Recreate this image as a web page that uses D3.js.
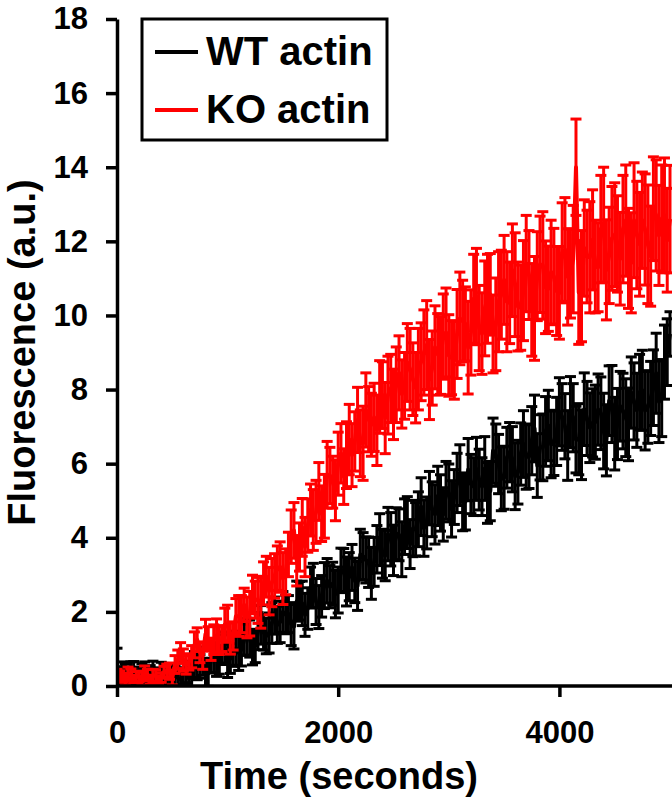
<!DOCTYPE html>
<html>
<head>
<meta charset="utf-8">
<script src="https://d3js.org/d3.v7.min.js"></script>
<style>
  body { margin: 0; background: #fff; }
  text { font-family: "Liberation Sans", Arial, sans-serif; font-weight: bold; }
</style>
</head>
<body>
<div id="chart"></div>
<script>
// sample times (seconds)
var times = [0,25,50,75,100,125,150,175,200,225,250,275,300,325,350,375,400,425,450,475,
  500,525,550,575,600,625,650,675,700,725,750,775,800,825,850,875,900,925,950,975,
  1000,1025,1050,1075,1100,1125,1150,1175,1200,1225,1250,1275,1300,1325,1350,1375,1400,1425,1450,1475,
  1500,1525,1550,1575,1600,1625,1650,1675,1700,1725,1750,1775,1800,1825,1850,1875,1900,1925,1950,1975,
  2000,2025,2050,2075,2100,2125,2150,2175,2200,2225,2250,2275,2300,2325,2350,2375,2400,2425,2450,2475,
  2500,2525,2550,2575,2600,2625,2650,2675,2700,2725,2750,2775,2800,2825,2850,2875,2900,2925,2950,2975,
  3000,3025,3050,3075,3100,3125,3150,3175,3200,3225,3250,3275,3300,3325,3350,3375,3400,3425,3450,3475,
  3500,3525,3550,3575,3600,3625,3650,3675,3700,3725,3750,3775,3800,3825,3850,3875,3900,3925,3950,3975,
  4000,4025,4050,4075,4100,4125,4150,4175,4200,4225,4250,4275,4300,4325,4350,4375,4400,4425,4450,4475,
  4500,4525,4550,4575,4600,4625,4650,4675,4700,4725,4750,4775,4800,4825,4850,4875,4900,4925,4950,4975,
  5000];

// WT actin (black): mean and error
var wtMean = [0.40,0.20,0.30,0.29,0.23,0.31,0.34,0.16,0.21,0.27,
  0.31,0.22,0.26,0.32,0.16,0.18,0.33,0.30,0.19,0.25,
  0.29,0.28,0.22,0.17,0.35,0.38,0.20,0.26,0.58,0.47,
  0.53,0.67,0.35,0.34,0.71,0.77,0.68,0.69,1.00,1.02,
  0.68,0.74,0.93,1.02,0.90,0.98,1.25,1.33,1.28,1.03,
  1.08,1.48,1.65,1.45,1.35,1.43,1.70,1.90,1.65,1.73,
  2.00,1.93,1.94,1.67,1.60,2.29,2.30,2.23,1.92,2.09,
  2.66,2.71,2.28,2.13,2.42,2.71,2.84,2.68,2.76,2.48,
  2.59,3.12,3.13,2.82,2.95,3.20,2.85,2.70,3.55,3.50,
  3.40,3.34,3.04,3.35,3.69,3.95,3.57,3.52,4.10,3.96,
  3.66,4.11,4.08,3.69,4.30,4.41,3.83,4.25,4.23,4.50,
  4.84,4.26,4.40,5.07,4.77,4.63,5.13,4.94,4.63,5.28,
  5.21,4.78,5.10,5.48,5.69,4.97,4.97,5.84,5.45,5.38,
  5.86,5.57,5.38,5.87,5.21,5.26,6.35,6.23,5.99,5.59,
  5.62,6.16,6.31,6.12,5.66,5.77,6.26,6.53,6.19,6.19,
  6.62,6.95,5.95,6.44,6.44,6.87,7.03,6.52,6.56,6.87,
  7.40,7.26,7.01,6.49,7.39,7.24,6.65,6.66,6.51,7.47,
  7.22,6.97,7.10,7.12,7.46,7.36,6.88,6.63,7.70,7.61,
  6.81,7.07,7.55,7.42,7.24,7.06,7.92,7.68,7.44,7.93,
  7.98,7.43,7.53,7.76,8.05,8.44,7.67,7.77,8.74,9.01,
  9.50];
var wtErr = [0.62,0.32,0.35,0.30,0.28,0.34,0.32,0.28,0.30,0.33,
  0.34,0.30,0.29,0.35,0.33,0.29,0.31,0.31,0.28,0.33,
  0.30,0.27,0.26,0.32,0.30,0.29,0.30,0.34,0.35,0.30,
  0.32,0.38,0.40,0.35,0.36,0.40,0.42,0.37,0.38,0.44,
  0.45,0.40,0.40,0.46,0.48,0.44,0.42,0.50,0.50,0.46,
  0.45,0.50,0.52,0.48,0.48,0.54,0.55,0.50,0.50,0.56,
  0.55,0.52,0.50,0.58,0.60,0.54,0.52,0.60,0.58,0.56,
  0.55,0.60,0.62,0.58,0.56,0.62,0.60,0.57,0.58,0.64,
  0.62,0.60,0.58,0.66,0.65,0.62,0.60,0.66,0.68,0.64,
  0.62,0.68,0.70,0.66,0.64,0.70,0.66,0.68,0.72,0.72,
  0.68,0.70,0.70,0.74,0.75,0.70,0.66,0.76,0.72,0.74,
  0.78,0.76,0.70,0.72,0.74,0.80,0.80,0.76,0.72,0.78,
  0.78,0.76,0.74,0.80,0.82,0.78,0.76,0.84,0.80,0.78,
  0.85,0.82,0.78,0.86,0.82,0.80,0.88,0.84,0.80,0.86,
  0.85,0.82,0.80,0.88,0.90,0.86,0.84,0.90,0.88,0.86,
  0.92,0.90,0.86,0.88,0.90,0.94,0.95,0.90,0.88,0.92,
  0.92,0.90,0.88,0.94,0.96,0.92,0.90,0.96,0.94,0.98,
  1.00,0.94,0.92,1.00,0.96,0.98,1.02,0.96,0.94,1.04,
  0.98,0.96,0.94,1.02,1.05,0.98,0.96,1.04,1.00,1.02,
  1.08,1.06,0.98,1.00,1.02,1.08,1.10,1.04,1.00,0.90,
  0.60];

// KO actin (red): mean and error
var koMean = [0.30,0.27,0.22,0.18,0.33,0.34,0.19,0.24,0.26,0.20,
  0.34,0.31,0.17,0.28,0.28,0.16,0.23,0.37,0.41,0.40,
  0.23,0.58,0.72,0.89,0.70,0.57,0.65,0.79,1.11,1.25,
  0.91,0.81,1.40,1.27,0.99,1.25,1.36,1.23,1.28,1.66,
  1.68,1.28,1.35,1.88,1.89,1.94,2.19,1.85,1.95,2.47,
  2.33,2.31,2.26,2.77,2.95,2.56,2.79,2.97,3.18,3.21,
  2.90,3.08,3.55,4.03,4.20,3.38,3.75,4.28,3.75,4.33,
  4.75,4.48,4.70,5.25,4.65,4.85,5.70,5.68,5.50,5.28,
  6.00,6.28,5.65,6.23,6.65,6.23,6.60,7.18,6.55,6.55,
  7.45,7.20,7.05,7.25,6.90,7.80,7.85,7.23,7.85,8.03,
  7.60,8.13,8.45,7.88,8.10,8.73,8.55,8.28,8.05,8.55,
  8.75,9.00,9.20,8.27,8.58,9.14,8.95,8.92,9.43,9.54,
  8.92,8.86,8.79,9.50,9.92,9.85,9.77,9.13,9.54,10.45,
  10.51,9.66,9.51,10.19,10.45,10.57,9.50,9.76,10.37,10.56,
  10.96,10.37,10.34,11.22,10.83,10.24,10.21,10.67,11.40,11.09,
  10.15,10.19,11.06,11.38,11.35,10.76,10.72,11.17,11.05,10.66,
  10.61,11.69,11.78,11.04,11.13,11.52,14.00,10.62,10.79,11.82,
  11.59,11.57,12.04,11.32,11.30,12.33,12.45,11.23,11.62,12.08,
  12.18,11.93,11.53,12.33,12.56,11.54,11.42,12.57,12.17,11.92,
  12.57,12.32,11.92,11.60,12.88,12.70,12.16,12.61,12.70,12.03,
  12.60];
var koErr = [0.15,0.14,0.12,0.16,0.18,0.12,0.10,0.15,0.14,0.18,
  0.20,0.14,0.12,0.17,0.16,0.12,0.13,0.16,0.18,0.22,
  0.20,0.24,0.25,0.28,0.30,0.25,0.22,0.30,0.35,0.32,
  0.28,0.36,0.40,0.33,0.30,0.40,0.45,0.38,0.35,0.44,
  0.50,0.42,0.38,0.48,0.55,0.50,0.45,0.55,0.60,0.52,
  0.50,0.62,0.70,0.58,0.55,0.64,0.65,0.60,0.60,0.68,
  0.70,0.62,0.60,0.72,0.75,0.68,0.65,0.78,0.80,0.72,
  0.70,0.82,0.85,0.78,0.75,0.86,0.90,0.76,0.70,0.82,
  0.85,0.80,0.75,0.90,0.95,0.85,0.80,0.88,0.90,1.00,
  1.00,0.88,0.85,0.92,0.95,0.98,0.90,0.96,1.05,0.92,
  0.95,1.02,1.00,0.92,0.90,1.05,1.10,0.98,0.95,1.10,
  1.05,1.15,1.20,1.08,1.00,1.12,1.10,1.05,1.15,1.20,
  1.10,1.00,1.05,1.20,1.25,1.10,1.00,1.25,1.15,1.20,
  1.30,1.15,1.10,1.28,1.20,1.10,1.05,1.25,1.35,1.20,
  1.20,1.35,1.10,1.25,1.40,1.20,1.15,1.35,1.30,1.20,
  1.25,1.40,1.20,1.30,1.45,1.25,1.15,1.40,1.30,1.20,
  1.25,1.35,1.40,1.30,1.20,1.45,1.30,1.40,1.50,1.30,
  1.25,1.50,1.35,1.25,1.20,1.45,1.55,1.35,1.30,1.40,
  1.40,1.30,1.25,1.45,1.50,1.35,1.35,1.55,1.45,1.40,
  1.30,1.50,1.60,1.35,1.40,1.50,1.35,1.45,1.55,1.40,
  1.45];

var xTicks = [0, 2000, 4000];
var yTicks = [0, 2, 4, 6, 8, 10, 12, 14, 16, 18];
var seriesNames = ["WT actin", "KO actin"];
var seriesColors = ["#000000", "#ff0000"];

// set the dimensions and margins of the graph
var margin = {top: 19, right: 2, bottom: 114, left: 117},
    width = 672 - margin.left - margin.right,
    height = 800 - margin.top - margin.bottom;

var svg = d3.select("#chart")
  .append("svg")
    .attr("width", width + margin.left + margin.right)
    .attr("height", height + margin.top + margin.bottom)
  .append("g")
    .attr("transform", "translate(" + margin.left + "," + margin.top + ")");

var x = d3.scaleLinear().domain([0, 5000]).range([0, width]);
var y = d3.scaleLinear().domain([0, 18]).range([height, 0]);

svg.append("clipPath").attr("id", "plotclip")
  .append("rect")
    .attr("x", 0).attr("y", -20)
    .attr("width", width + 2).attr("height", height + 20);

var plot = svg.append("g").attr("clip-path", "url(#plotclip)");

function drawSeries(means, errs, color) {
  var pts = times.map(function(t, i) { return {t: t, m: means[i], e: errs[i]}; });
  var g = plot.append("g").attr("stroke", color).attr("fill", "none");

  // error bar stems
  g.selectAll("line.stem")
    .data(pts)
    .enter().append("line")
      .attr("class", "stem")
      .attr("x1", function(d) { return x(d.t); })
      .attr("x2", function(d) { return x(d.t); })
      .attr("y1", function(d) { return y(d.m - d.e); })
      .attr("y2", function(d) { return y(d.m + d.e); })
      .attr("stroke-width", 3);

  // caps
  ["top", "bot"].forEach(function(side) {
    g.selectAll("line.cap" + side)
      .data(pts)
      .enter().append("line")
        .attr("class", "cap" + side)
        .attr("x1", function(d) { return x(d.t) - 5.5; })
        .attr("x2", function(d) { return x(d.t) + 5.5; })
        .attr("y1", function(d) { return y(side == "top" ? d.m + d.e : d.m - d.e); })
        .attr("y2", function(d) { return y(side == "top" ? d.m + d.e : d.m - d.e); })
        .attr("stroke-width", 3);
  });

  // mean line
  g.append("path")
    .datum(pts)
    .attr("stroke-width", 4)
    .attr("stroke-linejoin", "round")
    .attr("d", d3.line()
      .x(function(d) { return x(d.t); })
      .y(function(d) { return y(d.m); }));
}

drawSeries(wtMean, wtErr, seriesColors[0]);
drawSeries(koMean, koErr, seriesColors[1]);

// Y axis
var yAxis = svg.append("g")
  .call(d3.axisLeft(y).tickValues(yTicks).tickSize(11).tickSizeOuter(0).tickPadding(18));
yAxis.selectAll("line").attr("stroke-width", 3.5);
yAxis.select(".domain").attr("stroke-width", 3.5);
yAxis.selectAll("text").attr("font-size", 31).attr("fill", "#000");

// X axis
var xAxis = svg.append("g")
  .attr("transform", "translate(0," + height + ")")
  .call(d3.axisBottom(x).tickValues(xTicks).tickFormat(d3.format("d"))
    .tickSize(11).tickSizeOuter(0).tickPadding(24));
xAxis.selectAll("line").attr("stroke-width", 3.5);
xAxis.select(".domain").attr("d", "M0,0H" + (width + 2)).attr("stroke-width", 3.5);
xAxis.selectAll("text").attr("font-size", 31).attr("fill", "#000");

// axis titles
svg.append("text")
  .attr("x", 339 - margin.left)
  .attr("y", 789 - margin.top)
  .attr("text-anchor", "middle")
  .attr("font-size", 38)
  .text("Time (seconds)");

svg.append("text")
  .attr("transform", "translate(" + (35 - margin.left) + "," + (height / 2) + ") rotate(-90)")
  .attr("text-anchor", "middle")
  .attr("font-size", 38)
  .text("Fluorescence (a.u.)");

// legend
var legend = svg.append("g").attr("transform", "translate(" + (142 - margin.left) + ",0)");
legend.append("rect")
  .attr("width", 245).attr("height", 121)
  .attr("fill", "#fff").attr("stroke", "#000").attr("stroke-width", 3);

seriesNames.forEach(function(name, i) {
  legend.append("line")
    .attr("x1", 13).attr("x2", 56)
    .attr("y1", 33 + i * 58).attr("y2", 33 + i * 58)
    .attr("stroke", seriesColors[i]).attr("stroke-width", 4);
  legend.append("text")
    .attr("x", 64).attr("y", 46 + i * 58)
    .attr("font-size", 40)
    .text(name);
});
</script>
</body>
</html>
